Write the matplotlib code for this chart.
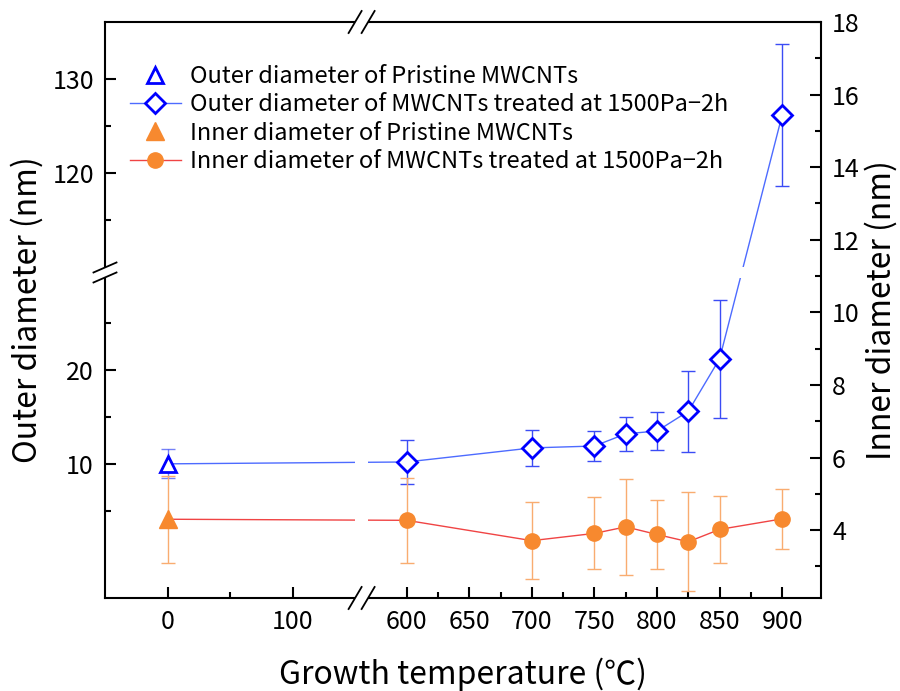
import numpy as np
import matplotlib
matplotlib.use('Agg')
import matplotlib.pyplot as plt
from matplotlib.lines import Line2D
from matplotlib.patches import Polygon
from matplotlib.transforms import IdentityTransform

plt.rcParams['font.family'] = ['Noto Sans CJK JP', 'DejaVu Sans']

# data
temp_pristine = [0]
outer_pristine = [10.0]
outer_pristine_err = [1.55]
inner_pristine = [4.3]
inner_pristine_err = [1.2]

temps = [600, 700, 750, 775, 800, 825, 850, 900]
outer = [10.2, 11.7, 11.9, 13.2, 13.5, 15.6, 21.2, 126.2]
outer_err = [2.3, 1.95, 1.55, 1.8, 2.0, 4.35, 6.3, 7.6]
inner = [4.27, 3.71, 3.91, 4.09, 3.88, 3.68, 4.02, 4.31]
inner_err = [1.17, 1.06, 0.99, 1.32, 0.96, 1.37, 0.93, 0.82]

# broken axes
XB1, XB2, XG = 150, 569, 10
YB1, YB2, YG = 29.8, 110.0, 1.2


def make_break(b1, b2, g):
    off = b2 - b1 - g

    def fwd(v):
        v = np.asarray(v, dtype=float)
        return np.where(v <= b1, v, np.where(v >= b2, v - off, b1 + (v - b1) * g / (b2 - b1)))

    def inv(v):
        v = np.asarray(v, dtype=float)
        return np.where(v <= b1, v, np.where(v >= b1 + g, v + off, b1 + (v - b1) * (b2 - b1) / g))
    return fwd, inv


blue = '#0000FF'
blue_line = '#4D6BFF'
blue_err = '#3B4CF5'
orange = '#F7892F'
red_line = '#F04444'
orange_err = '#F9AC70'

fig = plt.figure(figsize=(9, 6.91), dpi=100)
ax = fig.add_axes([105 / 900, 1 - 598 / 691, 716 / 900, 576 / 691])
ax.set_xscale('function', functions=make_break(XB1, XB2, XG))
ax.set_yscale('function', functions=make_break(YB1, YB2, YG))
ax2 = ax.twinx()

# outer diameter (left axis)
ax.plot([temp_pristine[0], temps[0]], [outer_pristine[0], outer[0]], '-', color=blue_line, lw=1, zorder=1.5)
ax.errorbar(temp_pristine, outer_pristine, yerr=outer_pristine_err, fmt='none', ecolor=blue_err,
            elinewidth=1, capsize=5, capthick=1, alpha=0.7)
ax.errorbar(temps, outer, yerr=outer_err, fmt='none', ecolor=blue_err, elinewidth=1, capsize=5, capthick=1)
h1, = ax.plot(temp_pristine, outer_pristine, '^', ms=12, mfc='white', mec=blue, mew=2, ls='none',
              label='Outer diameter of Pristine MWCNTs')
h2, = ax.plot(temps, outer, '-D', color=blue_line, lw=1, ms=10, mfc='white', mec=blue, mew=2,
              label='Outer diameter of MWCNTs treated at 1500Pa\u22122h')

# inner diameter (right axis)
ax2.plot([temp_pristine[0], temps[0]], [inner_pristine[0], inner[0]], '-', color=red_line, lw=1, zorder=1.5)
ax2.errorbar(temp_pristine, inner_pristine, yerr=inner_pristine_err, fmt='none', ecolor=orange_err,
             elinewidth=1, capsize=5, capthick=1)
ax2.errorbar(temps, inner, yerr=inner_err, fmt='none', ecolor=orange_err, elinewidth=1, capsize=5, capthick=1)
h3, = ax2.plot(temp_pristine, inner_pristine, '^', ms=13, color=orange, ls='none',
               label='Inner diameter of Pristine MWCNTs')
h4, = ax2.plot(temps, inner, '-o', color=red_line, lw=1, ms=11, mfc=orange, mec=orange,
               label='Inner diameter of MWCNTs treated at 1500Pa\u22122h')

ax.set_xlim(-50, 931)
ax.set_ylim(-4.3, 136.1)
ax2.set_ylim(2.13, 18)

# white gaps in lines at the breaks
ax.axhspan(YB1, YB2, color='white', zorder=2.2, lw=0)
ax2.axvspan(XB1, XB2, color='white', zorder=2.2, lw=0)

ax.set_xticks([0, 100, 600, 650, 700, 750, 800, 850, 900])
ax.set_xticks([50, 625, 675, 725, 775, 825, 875], minor=True)
ax.set_yticks([10, 20, 120, 130])
ax.set_yticks([5, 15, 25, 115, 125], minor=True)
ax2.set_yticks(np.arange(4, 19, 2))
ax2.set_yticks(np.arange(3, 18, 2), minor=True)

for a in (ax, ax2):
    a.tick_params(which='both', direction='in', width=1.5, labelsize=18)
    a.tick_params(which='major', length=8)
    a.tick_params(which='minor', length=4)
ax.tick_params(axis='y', right=False, pad=8)
ax.tick_params(axis='x', top=False, pad=8)
ax2.tick_params(axis='y', pad=8)
for s in ax.spines.values():
    s.set_linewidth(1.5)
for k in ('left', 'top', 'bottom'):
    ax2.spines[k].set_visible(False)
ax2.spines['right'].set_linewidth(1.5)
ax.spines['right'].set_visible(False)

ax.set_xlabel('Growth temperature (\u2103)', fontsize=23, labelpad=16)
ax.set_ylabel('Outer diameter (nm)', fontsize=23, labelpad=6)
ax2.set_ylabel('Inner diameter (nm)', fontsize=23, labelpad=4)

leg = ax2.legend(handles=[h1, h2, h3, h4], loc='upper left', bbox_to_anchor=(0.035, 0.925), frameon=False,
                 fontsize=17, handlelength=2.15, handletextpad=0.4, labelspacing=0.22,
                 borderpad=0, borderaxespad=0)
leg.set_zorder(20)


def break_mark(cx, cy, vx, vy, ox, oy):
    ident = IdentityTransform()
    pts = [(cx - ox - vx, cy - oy - vy), (cx - ox + vx, cy - oy + vy),
           (cx + ox + vx, cy + oy + vy), (cx + ox - vx, cy + oy - vy)]
    fig.add_artist(Polygon(pts, closed=True, facecolor='white', edgecolor='none', transform=ident, zorder=10))
    for s in (-1, 1):
        fig.add_artist(Line2D([cx + s * ox - vx, cx + s * ox + vx], [cy + s * oy - vy, cy + s * oy + vy],
                              color='black', lw=1.3, transform=ident, zorder=11))


bb = ax.get_window_extent()
xc = ax.transData.transform((XB1 + (XB2 - XB1) / 2, 10))[0]
yc = ax.transData.transform((0, YB1 + (YB2 - YB1) / 2))[1]
break_mark(xc, bb.y0, 6.5, 11, 6.5, 0)
break_mark(xc, bb.y1, 6.5, 11, 6.5, 0)
break_mark(bb.x0, yc, 11.5, 5, 0, 5)

fig.savefig('out.png', dpi=100)
